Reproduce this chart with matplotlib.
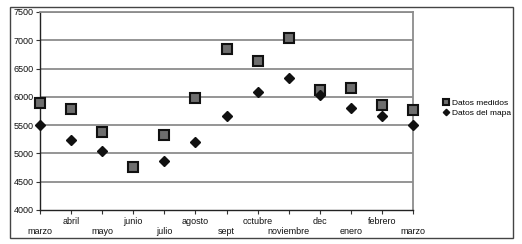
import numpy as np
import matplotlib.pyplot as plt
from matplotlib.patches import Rectangle

plt.rcParams['font.family'] = ['Liberation Sans', 'DejaVu Sans']

months = ['marzo', 'abril', 'mayo', 'junio', 'julio', 'agosto', 'sept',
          'octubre', 'noviembre', 'dec', 'enero', 'febrero', 'marzo']
medidos = [5900, 5790, 5380, 4760, 5330, 5980, 6840, 6640, 7040, 6120, 6160, 5850, 5770]
mapa = [5510, 5230, 5040, np.nan, 4870, 5210, 5670, 6090, 6330, 6040, 5800, 5670, 5510]
yticks = [4000, 4500, 5000, 5500, 6000, 6500, 7000, 7500]

fig = plt.figure(figsize=(5.22, 2.44), dpi=100)
ax = fig.add_axes([40 / 522, 1 - 210 / 244, 373 / 522, 198 / 244])

x = np.arange(len(months))
for y in yticks[1:]:
    ax.axhline(y, color='#8c8c8c', linewidth=1.3, zorder=1)

ax.plot(x, medidos, 's', color='#6e6e6e', markeredgecolor='#111111',
        markeredgewidth=1.5, markersize=6.8, label='Datos medidos',
        clip_on=False, zorder=3)
ax.plot(x, mapa, 'D', color='#111111', markersize=5.4, label='Datos del mapa',
        clip_on=False, zorder=4)

ax.set_xlim(0, len(months) - 1)
ax.set_ylim(4000, 7500)
ax.set_yticks(yticks)
ax.set_yticklabels([str(v) for v in yticks], fontsize=6.5, color='#111111')
ax.set_xticks(x)
ax.set_xticklabels([])

# staggered month labels: odd ones on the upper row
for i, m in enumerate(months):
    dy = -12 if i % 2 else -22
    ax.annotate(m, xy=(i, 4000), xycoords='data', xytext=(0, dy * 0.72),
                textcoords='offset points', fontsize=6.5, ha='center',
                va='center', color='#111111', annotation_clip=False)

ax.tick_params(axis='x', length=3, width=0.8, color='#333333', direction='out')
ax.tick_params(axis='y', length=3, width=0.8, color='#333333', direction='out', pad=1.5)
for s in ['left', 'bottom']:
    ax.spines[s].set_color('#222222')
    ax.spines[s].set_linewidth(1.0)
for s in ['top', 'right']:
    ax.spines[s].set_color('#8c8c8c')
    ax.spines[s].set_linewidth(1.3)

ax.legend(loc='center left', bbox_to_anchor=(1.082, 0.515), frameon=False,
          fontsize=6.0, handlelength=0.5, handletextpad=0.45, labelspacing=0.3,
          markerscale=0.6, borderaxespad=0, borderpad=0)

fig.add_artist(Rectangle((10 / 522, 1 - 237.5 / 244), 503 / 522, 231 / 244,
                         transform=fig.transFigure, fill=False,
                         edgecolor='#444444', linewidth=1.0))

fig.savefig('out.png', dpi=100, facecolor='white')
